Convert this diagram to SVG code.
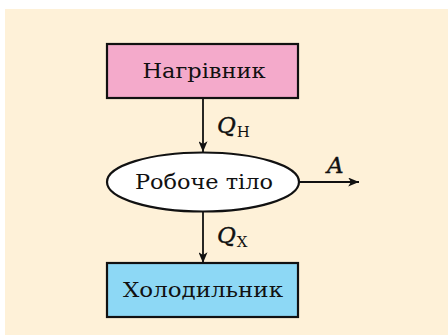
<svg xmlns="http://www.w3.org/2000/svg" width="448" height="335" viewBox="0 0 448 335">
<style>
.box{stroke:#111;stroke-width:2.2}
.lbl{font-family:"DejaVu Serif","Liberation Serif",serif;font-size:21px;fill:#111;text-anchor:middle}
.sym{font-family:"DejaVu Serif","Liberation Serif",serif;font-style:italic;font-size:23px;fill:#111;stroke:#111;stroke-width:0.4}
.sub{font-family:"DejaVu Serif","Liberation Serif",serif;font-size:15px;fill:#111;stroke:none}
.edge{stroke:#111;stroke-width:1.8;fill:none}
</style>
<defs>
<marker id="ah" viewBox="0 0 12 10" refX="12" refY="5" markerWidth="12" markerHeight="9" markerUnits="userSpaceOnUse" orient="auto">
<path d="M0,0 L12,5 L0,10 L3,5 Z" fill="#111"/>
</marker>
</defs>
<rect x="5" y="9" width="443" height="326" fill="#FEF1D8"/>
<g id="connectors">
<line class="edge" x1="203" y1="99" x2="203" y2="152" marker-end="url(#ah)"/>
<line class="edge" x1="203" y1="211" x2="203" y2="263" marker-end="url(#ah)"/>
<line class="edge" x1="299" y1="182" x2="359" y2="182" marker-end="url(#ah)"/>
<text class="sym" x="217" y="133">Q<tspan class="sub" dx="1" dy="4" font-style="normal">Н</tspan></text>
<text class="sym" x="217" y="243">Q<tspan class="sub" dx="1" dy="4" font-style="normal">Х</tspan></text>
<text class="sym" x="327" y="173">A</text>
</g>
<g id="heater">
<rect class="box" x="107" y="44" width="191" height="54" fill="#F4AACB"/>
<text class="lbl" x="204" y="78" textLength="123" lengthAdjust="spacingAndGlyphs">Нагрівник</text>
</g>
<g id="body">
<ellipse class="box" cx="203" cy="182" rx="96" ry="29.5" fill="#fff"/>
<text class="lbl" x="204" y="189" textLength="138" lengthAdjust="spacingAndGlyphs">Робоче тіло</text>
</g>
<g id="cooler">
<rect class="box" x="107" y="263" width="191" height="54" fill="#8DD8F5"/>
<text class="lbl" x="203" y="297" textLength="160" lengthAdjust="spacingAndGlyphs">Холодильник</text>
</g>
</svg>
